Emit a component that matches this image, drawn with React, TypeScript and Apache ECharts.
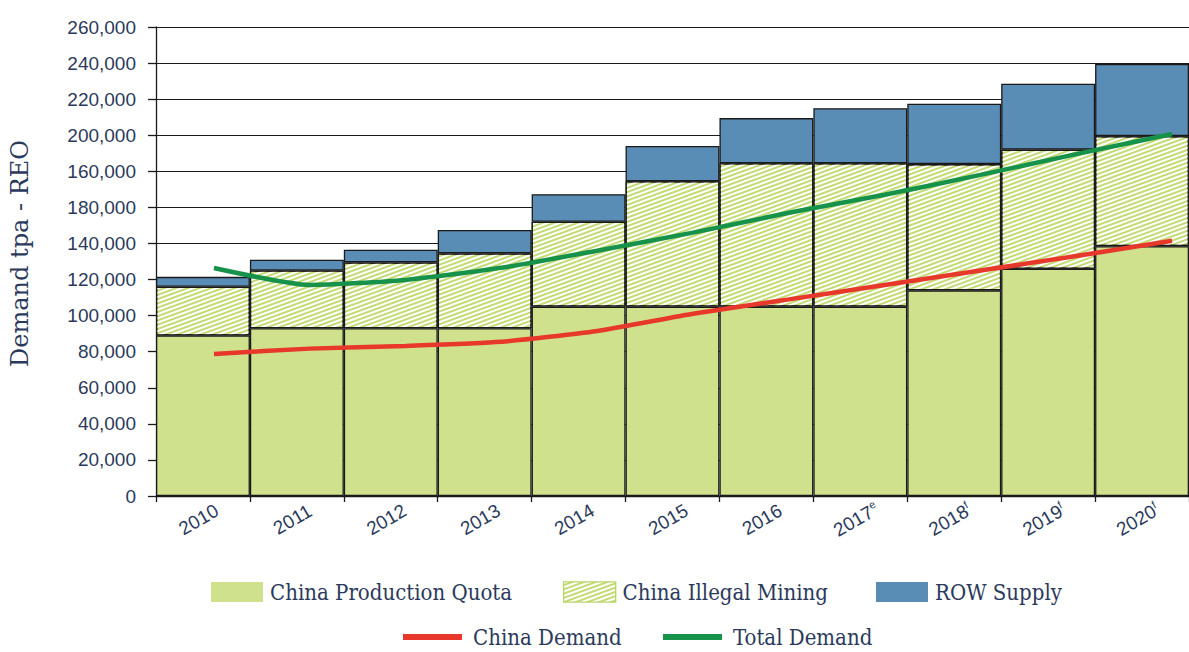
import React, { useEffect, useRef } from 'react';
import * as echarts from 'echarts';

const categories = ['2010', '2011', '2012', '2013', '2014', '2015', '2016', '2017', '2018', '2019', '2020'];
const categorySuffix = ['', '', '', '', '', '', '', 'e', 'f', 'f', 'f'];
const lineYears = [2010, 2011, 2012, 2013, 2014, 2015, 2016, 2017, 2018, 2019, 2020];

const chinaQuota = [89000, 93000, 93000, 93000, 105000, 105000, 105000, 105000, 114000, 126000, 138500];
const chinaIllegal = [27000, 32000, 36500, 41500, 47000, 69500, 79500, 79500, 70000, 66000, 61000];
const rowSupply = [5500, 6000, 7000, 13000, 15300, 19500, 25000, 30500, 33500, 36500, 40000];

const chinaDemand = [78700, 81700, 83200, 85500, 91500, 101000, 109000, 117000, 125000, 133000, 141500];
const totalDemand = [126400, 117000, 119800, 126500, 136000, 146000, 157000, 167000, 178000, 189500, 200700];

// tick labels as printed in the source (bottom to top)
const yTickLabels = ['0', '20,000', '40,000', '60,000', '80,000', '100,000', '120,000', '140,000', '180,000', '160,000', '200,000', '220,000', '240,000', '260,000'];

const NAVY = '#2b3a5c';
const AXIS = '#1a1a1a';
const LEGEND_FONT = { fontFamily: 'DejaVu Serif Condensed, DejaVu Serif', fontSize: 22, color: NAVY };

export default function App() {
  const ref = useRef<HTMLDivElement>(null);

  useEffect(() => {
    if (!ref.current) return;
    const chart = echarts.init(ref.current, undefined, { renderer: 'svg' });
    const barBorder = { borderColor: AXIS, borderWidth: 1.3 };
    const barLegend = (name: string, left: number, itemStyle: any) => ({
      left,
      top: 581,
      padding: 0,
      icon: 'rect',
      itemWidth: 52,
      itemHeight: 20,
      data: [{ name, itemStyle }],
      textStyle: { ...LEGEND_FONT, padding: [0, 0, 0, 2] },
    });
    const lineLegend = (name: string, left: number) => ({
      left,
      top: 626,
      padding: 0,
      icon: 'rect',
      itemWidth: 59,
      itemHeight: 6,
      data: [name],
      textStyle: { ...LEGEND_FONT, padding: [0, 0, 0, 6] },
    });
    chart.setOption({
      animation: false,
      backgroundColor: '#ffffff',
      grid: { left: 155, right: 0, top: 27, bottom: 156, containLabel: false },
      legend: [
        barLegend('China Production Quota', 211, { borderWidth: 0 }),
        barLegend('China Illegal Mining', 563, { borderColor: '#b9d66b', borderWidth: 1.2 }),
        barLegend('ROW Supply', 876, { borderWidth: 0 }),
        lineLegend('China Demand', 403),
        lineLegend('Total Demand', 663),
      ],
      xAxis: [
        {
          type: 'category',
          data: categories,
          boundaryGap: true,
          axisLine: { lineStyle: { color: AXIS, width: 1.3 } },
          axisTick: { show: true, length: 6, lineStyle: { color: AXIS, width: 1.3 } },
          axisLabel: {
            interval: 0,
            rotate: 30,
            margin: 21,
            align: 'center',
            verticalAlign: 'middle',
            color: NAVY,
            fontFamily: 'Liberation Sans, Arial',
            fontSize: 19,
            padding: [0, 10, 0, 0],
            formatter: (v: string, i: number) => (categorySuffix[i] ? `${v}{sup|${categorySuffix[i]}}` : v),
            rich: { sup: { fontSize: 11, color: NAVY, fontFamily: 'Liberation Sans, Arial', padding: [0, 0, 10, 0] } },
          },
          splitLine: { show: false },
        },
        {
          type: 'value',
          show: false,
          min: 2009.395,
          max: 2020.177,
          splitLine: { show: false },
        },
      ],
      yAxis: {
        type: 'value',
        min: 0,
        max: 260000,
        interval: 20000,
        name: 'Demand tpa - REO',
        nameLocation: 'middle',
        nameRotate: 90,
        nameGap: 124,
        nameTextStyle: { fontFamily: 'DejaVu Serif', fontSize: 24, color: NAVY, padding: [0, 0, 0, 16] },
        axisLine: { show: true, lineStyle: { color: AXIS, width: 1.3 } },
        axisTick: { show: true, length: 8, lineStyle: { color: AXIS, width: 1.3 } },
        axisLabel: {
          margin: 20,
          color: NAVY,
          fontFamily: 'Liberation Sans, Arial',
          fontSize: 19,
          formatter: (_v: number, i: number) => yTickLabels[i],
        },
        splitLine: { show: true, lineStyle: { color: AXIS, width: 1.2 } },
      },
      series: [
        {
          name: 'China Production Quota',
          type: 'bar',
          stack: 'supply',
          barCategoryGap: 0,
          data: chinaQuota,
          itemStyle: { color: '#cfe18c', ...barBorder },
        },
        {
          name: 'China Illegal Mining',
          type: 'bar',
          stack: 'supply',
          barCategoryGap: 0,
          data: chinaIllegal,
          itemStyle: {
            color: '#c3db74',
            ...barBorder,
            decal: {
              symbol: 'rect',
              symbolSize: 1,
              color: '#ffffff',
              dashArrayX: [1, 0],
              dashArrayY: [2, 2],
              rotation: -Math.PI / 9,
            },
          },
        },
        {
          name: 'ROW Supply',
          type: 'bar',
          stack: 'supply',
          barCategoryGap: 0,
          data: rowSupply,
          itemStyle: { color: '#5a8db5', ...barBorder },
        },
        {
          name: 'China Demand',
          type: 'line',
          xAxisIndex: 1,
          symbol: 'none',
          smooth: 0.2,
          data: lineYears.map((y, i) => [y, chinaDemand[i]]),
          lineStyle: { color: '#e8382b', width: 4.5 },
          itemStyle: { color: '#e8382b' },
          z: 5,
        },
        {
          name: 'Total Demand',
          type: 'line',
          xAxisIndex: 1,
          symbol: 'none',
          smooth: 0.2,
          data: lineYears.map((y, i) => [y, totalDemand[i]]),
          lineStyle: { color: '#17924a', width: 4.5 },
          itemStyle: { color: '#17924a' },
          z: 5,
        },
      ],
    });
    return () => chart.dispose();
  }, []);

  return <div ref={ref} style={{ position: 'fixed', left: 0, top: 0, width: 1189, height: 652 }} />;
}
